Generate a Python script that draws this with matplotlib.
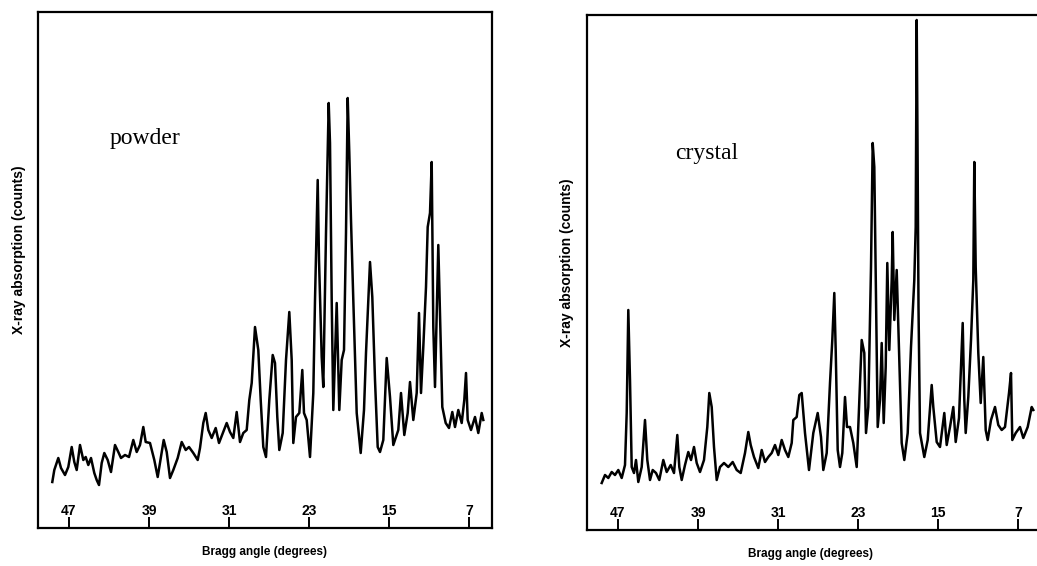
import matplotlib
matplotlib.use("Agg")
import matplotlib.pyplot as plt

# Bragg angle (degrees) and counts (arbitrary units)
powder_angle = [48.67, 48.47, 48.07, 47.8, 47.4, 47.07, 46.73, 46.47, 46.23, 45.9,
                45.57, 45.33, 45.07, 44.8, 44.47, 44.23, 44.0, 43.73, 43.47, 43.13,
                42.8, 42.4, 42.07, 41.8, 41.4, 41.0, 40.57, 40.23, 39.9, 39.57,
                39.33, 38.9, 38.47, 38.13, 37.8, 37.53, 37.23, 36.9, 36.57, 36.13,
                35.73, 35.33, 35.0, 34.57, 34.13, 33.9, 33.57, 33.33, 33.07, 32.73,
                32.33, 32.0, 31.57, 31.23, 30.9, 30.57, 30.23, 29.9, 29.57, 29.23,
                28.97, 28.73, 28.4, 28.07, 27.83, 27.57, 27.3, 26.97, 26.63, 26.4,
                26.17, 25.97, 25.63, 25.3, 24.97, 24.73, 24.57, 24.3, 23.97, 23.67,
                23.5, 23.23, 22.9, 22.57, 22.4, 22.13, 22.0, 21.73, 21.57, 21.3,
                21.03, 20.9, 20.73, 20.57, 20.23, 19.97, 19.73, 19.5, 19.3, 19.13,
                18.97, 18.8, 18.57, 18.23, 17.83, 17.5, 17.3, 16.9, 16.67, 16.4,
                16.13, 15.9, 15.57, 15.23, 14.9, 14.57, 14.07, 13.8, 13.47, 13.13,
                12.9, 12.57, 12.23, 12.0, 11.8, 11.57, 11.3, 11.13, 10.9, 10.73,
                10.57, 10.4, 10.23, 10.07, 9.9, 9.67, 9.33, 9.0, 8.67, 8.4,
                8.07, 7.73, 7.47, 7.3, 7.13, 6.8, 6.4, 6.07, 5.73, 5.57]
powder_counts = [46, 58, 70, 60, 53, 61, 81, 66, 58, 83,
                 68, 71, 63, 70, 55, 48, 43, 65, 75, 68,
                 56, 83, 76, 70, 73, 71, 88, 76, 83, 101,
                 86, 85, 68, 51, 71, 88, 76, 50, 58, 70,
                 86, 78, 81, 75, 68, 80, 105, 115, 98, 90,
                 100, 85, 96, 105, 96, 90, 116, 86, 95, 98,
                 128, 145, 201, 178, 128, 81, 71, 128, 173, 165,
                 111, 78, 95, 168, 216, 168, 85, 111, 115, 158,
                 115, 108, 71, 135, 228, 348, 268, 171, 141, 295,
                 425, 385, 228, 118, 225, 118, 168, 178, 295, 430,
                 375, 308, 228, 115, 75, 118, 175, 266, 231, 148,
                 81, 76, 88, 170, 131, 83, 98, 135, 93, 115,
                 146, 108, 135, 215, 135, 181, 241, 301, 315, 366,
                 201, 141, 215, 283, 215, 121, 105, 100, 116, 101,
                 118, 105, 128, 155, 108, 98, 111, 95, 115, 108]

crystal_angle = [48.63, 48.3, 47.97, 47.63, 47.3, 46.97, 46.63, 46.3, 46.13, 45.97,
                 45.8, 45.63, 45.4, 45.2, 44.97, 44.63, 44.3, 44.07, 43.8, 43.53,
                 43.2, 42.87, 42.47, 42.13, 41.73, 41.4, 41.07, 40.87, 40.63, 40.3,
                 39.97, 39.7, 39.4, 39.13, 38.8, 38.4, 38.07, 37.87, 37.63, 37.4,
                 37.13, 36.8, 36.4, 35.97, 35.53, 35.13, 34.73, 34.3, 33.97, 33.73,
                 33.4, 32.97, 32.63, 32.3, 31.97, 31.63, 31.3, 30.97, 30.63, 30.3,
                 29.97, 29.63, 29.47, 29.13, 28.87, 28.63, 28.3, 27.9, 27.47, 27.03,
                 26.7, 26.47, 26.13, 25.8, 25.57, 25.37, 25.23, 25.03, 24.8, 24.57,
                 24.3, 24.1, 23.8, 23.47, 23.13, 22.87, 22.63, 22.37, 22.2, 21.97,
                 21.7, 21.53, 21.37, 21.2, 21.03, 20.8, 20.63, 20.43, 20.23, 20.07,
                 19.87, 19.63, 19.53, 19.37, 19.13, 18.9, 18.63, 18.37, 18.03, 17.7,
                 17.37, 17.23, 17.13, 17.05, 16.95, 16.8, 16.37, 16.03, 15.63, 15.47,
                 15.13, 14.8, 14.37, 14.13, 13.8, 13.47, 13.23, 12.9, 12.53, 12.37,
                 12.23, 11.97, 11.7, 11.47, 11.37, 11.23, 10.97, 10.73, 10.47, 10.23,
                 10.03, 9.7, 9.3, 8.97, 8.63, 8.3, 7.9, 7.7, 7.57, 7.23,
                 6.8, 6.47, 6.03, 5.63, 5.47]
crystal_counts = [47, 55, 52, 58, 55, 60, 52, 65, 117, 220,
                  150, 63, 57, 70, 48, 63, 110, 70, 50, 60,
                  57, 50, 70, 58, 65, 57, 95, 63, 50, 65,
                  78, 70, 83, 67, 58, 70, 103, 137, 123, 83,
                  50, 63, 67, 63, 68, 60, 57, 77, 98, 85,
                  73, 62, 80, 68, 73, 77, 85, 75, 90, 80,
                  73, 87, 110, 113, 135, 137, 97, 60, 97, 117,
                  93, 60, 77, 147, 190, 237, 180, 80, 63, 77,
                  133, 103, 103, 87, 63, 130, 190, 177, 97, 123,
                  263, 387, 363, 230, 103, 130, 187, 107, 163, 267,
                  180, 250, 298, 210, 260, 180, 87, 70, 97, 183,
                  250, 303, 510, 390, 223, 97, 73, 90, 145, 123,
                  88, 83, 117, 85, 103, 123, 88, 112, 207, 130,
                  97, 133, 190, 250, 368, 263, 177, 127, 173, 100,
                  90, 110, 123, 105, 100, 103, 137, 157, 90, 97,
                  103, 92, 103, 123, 120]

tick_values = [47, 39, 31, 23, 15, 7]

panels = [
    # axes rect, y max, trace, sample label, label pos, ylabel pos, xlabel pos
    ([38 / 1037, 38 / 566, 454 / 1037, 516 / 566], 516, powder_angle, powder_counts,
     "powder", (0.158, 0.745), (-0.026, 0.54), (0.50, -0.034)),
    ([587 / 1037, 36 / 566, 454 / 1037, 515 / 566], 515, crystal_angle, crystal_counts,
     "crystal", (0.195, 0.72), (-0.029, 0.52), (0.493, -0.034)),
]

fig = plt.figure(figsize=(10.37, 5.66), dpi=100)

for rect, ymax, ang, cts, name, name_pos, ylab_pos, xlab_pos in panels:
    ax = fig.add_axes(rect)
    ax.plot(ang, cts, color="black", lw=1.8)
    ax.set_xlim(50.1, 4.7)
    ax.set_ylim(0, ymax)
    for s in ax.spines.values():
        s.set_linewidth(1.6)
    ax.set_yticks([])
    ax.set_xticks(tick_values)
    ax.set_xticklabels([str(t) for t in tick_values], fontfamily="Liberation Sans",
                       fontweight="bold", fontsize=10)
    ax.tick_params(axis="x", direction="in", length=8, width=1.4, pad=-17)
    ax.set_ylabel("X-ray absorption (counts)", fontfamily="Liberation Sans",
                  fontweight="bold", fontsize=10)
    ax.yaxis.set_label_coords(*ylab_pos)
    ax.set_xlabel("Bragg angle (degrees)", fontfamily="Liberation Sans",
                  fontweight="bold", fontsize=8.5)
    ax.xaxis.set_label_coords(*xlab_pos)
    ax.text(name_pos[0], name_pos[1], name, transform=ax.transAxes,
            fontfamily="Liberation Serif", fontsize=17, va="baseline")

fig.savefig("out.png", dpi=100)
